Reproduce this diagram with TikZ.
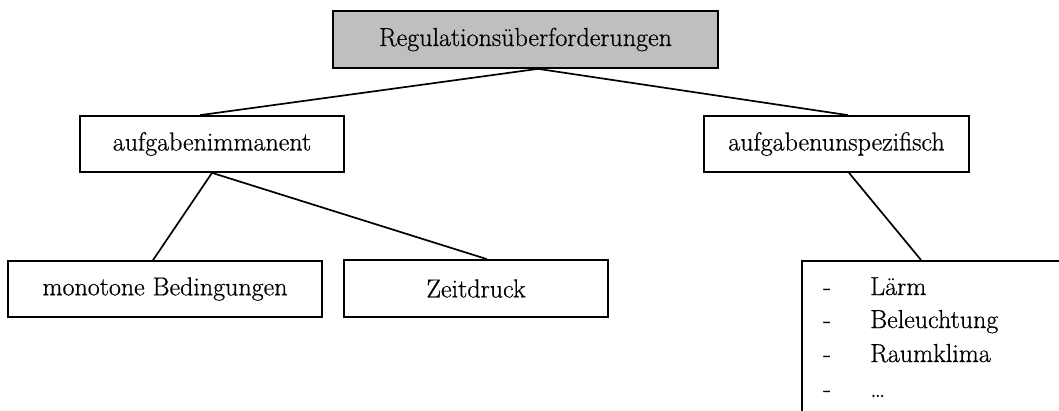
\documentclass[tikz,border=0pt]{standalone}
\usepackage{fontspec}
\setmainfont{Latin Modern Roman}[RawFeature={embolden=0.6}]
\usetikzlibrary{calc}
\begin{document}
\begin{tikzpicture}[x=1pt,y=-1pt,
  box/.style={draw=black,line width=1.7pt,rectangle,inner sep=0pt,
    font=\fontsize{26}{30}\selectfont},
  link/.style={draw=black,line width=1.7pt},
  item/.style={inner sep=0pt,anchor=base west,font=\fontsize{26}{30}\selectfont}]
\clip (0,0) rectangle (1059,410);
\useasboundingbox (0,0) rectangle (1059,410);

% tree boxes
\node[box,fill=black!25,minimum width=385pt,minimum height=57pt] (top) at (525.5,39.5) {Regulationsüberforderungen};
\node[box,minimum width=264pt,minimum height=56pt] (aimm) at (212,144) {aufgabenimmanent};
\node[box,minimum width=265pt,minimum height=56pt] (aunsp) at (836.5,144) {aufgabenunspezifisch};
\node[box,minimum width=314pt,minimum height=56pt] (mono) at (165,289) {monotone Bedingungen};
\node[box,minimum width=264pt,minimum height=57pt] (zeit) at (476,288.5) {Zeitdruck};
\node[box,anchor=north west,minimum width=280pt,minimum height=170pt] (list) at (801,260) {};

% list entries
\node[item] (d1) at (823,295) {-};
\node[item] (t1) at (870,295) {Lärm};
\node[item] (d2) at (823,328) {-};
\node[item] (t2) at (870,328) {Beleuchtung};
\node[item] (d3) at (823,362) {-};
\node[item] (t3) at (870,362) {Raumklima};
\node[item] (d4) at (823,397) {-};
\node[item] (t4) at (870,397) {\dots};

% joints on the box borders
\coordinate (topj) at ([xshift=12.5pt]top.south);
\coordinate (aimmt) at ([xshift=-12pt]aimm.north);
\coordinate (aunspt) at ([xshift=11.5pt]aunsp.north);
\coordinate (aunspb) at ([xshift=12.5pt]aunsp.south);
\coordinate (monot) at ([xshift=-12pt]mono.north);
\coordinate (zeitt) at ([xshift=11pt]zeit.north);
\coordinate (listt) at ($(list.north west)+(120pt,0)$);

% connectors
\draw[link] (topj) -- (aimmt);
\draw[link] (topj) -- (aunspt);
\draw[link] (aimm.south) -- (monot);
\draw[link] (aimm.south) -- (zeitt);
\draw[link] (aunspb) -- (listt);
\end{tikzpicture}
\end{document}
